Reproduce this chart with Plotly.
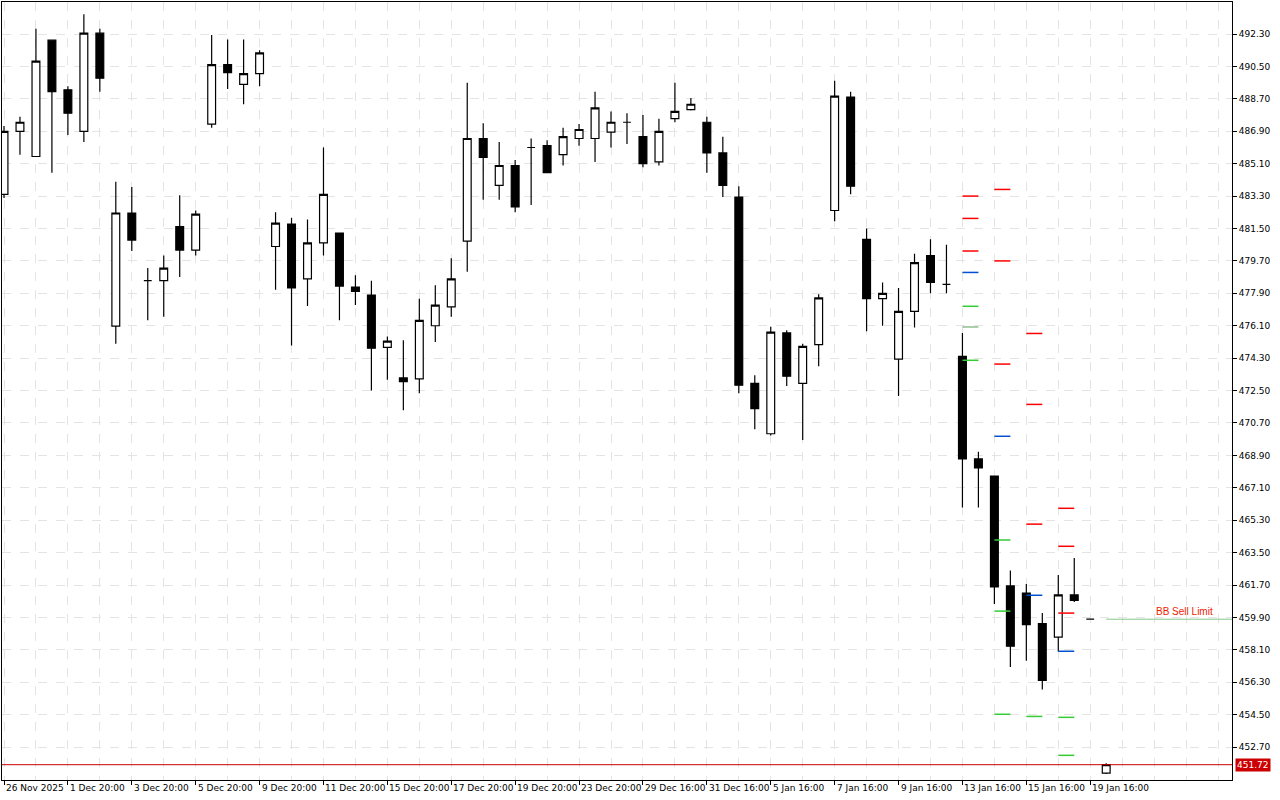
import plotly.graph_objects as go

opens  = [483.4,486.9,485.5,491.96,489.2,486.9,492.35,476.08,482.36,478.6,478.6,481.6,480.3,487.3,490.6,489.5,490.1,
          480.5,481.75,478.7,480.7,481.25,478.25,477.8,474.9,473.2,473.15,476.1,477.15,480.8,486.5,483.9,485.0,486.0,486.1,
          485.6,486.5,486.5,486.85,487.4,486.6,485.2,487.6,488.1,487.4,485.7,483.25,472.9,470.1,475.7,472.9,475.05,482.5,
          488.8,480.9,477.6,474.25,476.9,480.0,478.4,474.4,468.7,467.75,461.65,461.25,459.55,458.8,461.15,459.8,451.25]
highs  = [487.2,487.7,492.6,491.96,489.4,493.4,492.6,484.1,483.8,479.3,480.0,483.35,482.5,492.25,492.0,492.0,491.4,
          482.4,482.1,482.0,486.0,481.25,478.9,478.6,475.5,475.3,477.6,478.35,479.85,489.6,487.35,486.3,485.3,486.5,486.4,
          487.1,487.3,489.1,488.0,487.9,487.8,487.6,489.6,488.75,487.7,486.6,483.85,473.35,476.05,475.85,475.1,477.85,489.7,
          489.1,481.5,478.5,478.2,480.1,480.9,480.6,475.7,469.1,467.75,462.5,461.75,460.15,462.25,463.2,459.8,451.8]
lows   = [483.2,485.6,485.5,484.6,486.7,486.3,489.1,475.1,480.25,476.4,476.6,478.8,480.0,487.1,489.25,488.4,489.4,
          478.1,475.0,477.2,480.0,476.4,477.25,472.5,473.1,471.4,472.35,475.2,476.6,479.1,483.1,483.1,482.4,482.8,484.6,
          485.0,486.1,485.2,486.0,486.2,484.9,485.0,487.4,488.05,484.6,483.25,472.35,470.35,470.0,472.75,469.75,473.85,481.9,
          483.4,475.8,476.1,472.2,476.0,477.9,477.9,466.0,466.0,460.65,457.15,457.5,455.9,458.0,460.75,459.8,451.2]
closes = [486.9,487.4,490.8,489.1,487.9,492.35,489.85,482.36,480.86,478.6,479.3,480.3,482.3,490.6,490.15,490.1,491.25,
          481.8,478.2,480.7,483.4,478.3,478.0,474.85,475.25,473.0,476.4,477.25,478.7,486.5,485.45,485.0,482.7,486.0,484.6,
          486.6,487.0,488.2,487.4,487.4,485.1,486.9,488.0,488.4,485.7,483.9,472.8,471.5,475.75,473.3,474.95,477.65,488.85,
          483.85,477.6,477.9,476.9,479.6,478.5,478.4,468.7,468.2,461.6,458.3,459.5,456.4,461.15,460.85,459.8,451.72]

tick_idx = [0,4,8,12,16,20,24,28,32,36,40,44,48,52,56,60,64,68]
tick_txt = ["26 Nov 2025","1 Dec 20:00","3 Dec 20:00","5 Dec 20:00","9 Dec 20:00","11 Dec 20:00","15 Dec 20:00",
            "17 Dec 20:00","19 Dec 20:00","23 Dec 20:00","29 Dec 16:00","31 Dec 16:00","5 Jan 16:00","7 Jan 16:00",
            "9 Jan 16:00","13 Jan 16:00","15 Jan 16:00","19 Jan 16:00"]
price_ticks = [452.70,454.50,456.30,458.10,459.90,461.70,463.50,465.30,467.10,468.90,470.70,472.50,474.30,476.10,
               477.90,479.70,481.50,483.30,485.10,486.90,488.70,490.50,492.30]

# level markers: (start index, price)
red_levels = [(60,483.3),(60,482.06),(60,480.25),(62,483.67),(62,479.7),(62,473.97),(64,475.67),(64,471.73),
              (64,465.08),(66,465.96),(66,463.85),(66,460.14)]
blue_levels = [(60,479.06),(62,469.96),(64,461.13),(66,458.02)]
green_levels = [(60,477.18),(60,474.18),(62,464.2),(62,460.25),(62,454.52),(64,454.4),(66,454.35),(66,452.24)]
grey_levels = [(60,476.03)]
current_price = 451.72
order_price = 459.8
order_start = 69
order_label = "BB Sell Limit"

fig = go.Figure()
fig.add_trace(go.Candlestick(
    x=list(range(len(opens))), open=opens, high=highs, low=lows, close=closes,
    increasing=dict(line=dict(color="black", width=1.2), fillcolor="white"),
    decreasing=dict(line=dict(color="black", width=1.2), fillcolor="black"),
    whiskerwidth=0, showlegend=False, hoverinfo="skip"))

def seg(levels, color):
    xs, ys = [], []
    for s, p in levels:
        xs += [s, s + 1, None]
        ys += [p, p, None]
    fig.add_trace(go.Scatter(x=xs, y=ys, mode="lines", line=dict(color=color, width=1.5),
                             showlegend=False, hoverinfo="skip"))

seg(red_levels, "#ff0000")
seg(blue_levels, "#0050d0")
seg(green_levels, "#33cc33")
seg(grey_levels, "#8fbf8f")

XMIN, XMAX = -0.125, 76.875
fig.add_trace(go.Scatter(x=[order_start, XMAX], y=[order_price, order_price], mode="lines",
                         line=dict(color="#88c888", width=1), showlegend=False, hoverinfo="skip"))
fig.add_trace(go.Scatter(x=[XMIN, XMAX], y=[current_price, current_price], mode="lines",
                         line=dict(color="#cc0000", width=1), showlegend=False, hoverinfo="skip"))

ann = []
for i, t in zip(tick_idx, tick_txt):
    ann.append(dict(x=i, y=0, xref="x", yref="paper", text=t, showarrow=False, xanchor="left",
                    yanchor="top", yshift=-1, font=dict(size=9, color="black")))
ann.append(dict(x=1, y=current_price, xref="paper", yref="y", text="%.2f" % current_price, showarrow=False,
                xanchor="left", xshift=3, bgcolor="#cc0000", font=dict(size=9, color="white"), borderpad=1))
ann.append(dict(x=72.0, y=order_price, xref="x", yref="y", text=order_label, showarrow=False, xanchor="left",
                yanchor="bottom", font=dict(size=10, color="#ee2200", family="Liberation Sans")))

fig.update_layout(
    width=1280, height=800, margin=dict(l=2, r=48, t=2, b=20, autoexpand=False),
    paper_bgcolor="white", plot_bgcolor="white",
    font=dict(family="DejaVu Sans", size=9, color="black"),
    annotations=ann, showlegend=False,
    xaxis=dict(range=[XMIN, XMAX], rangeslider=dict(visible=False), tickvals=tick_idx, showticklabels=False,
               ticks="outside", ticklen=4, tickcolor="black", showgrid=True, gridcolor="#e4e4e4", griddash="dash",
               minor=dict(tick0=0, dtick=2, showgrid=True, gridcolor="#e4e4e4", griddash="dash"),
               showline=True, linecolor="black", mirror=True, zeroline=False, automargin=False),
    yaxis=dict(range=[450.87, 494.08], side="right", tickvals=price_ticks,
               ticktext=["%.2f" % v for v in price_ticks], ticks="outside", ticklen=4, tickcolor="black",
               showgrid=True, gridcolor="#e4e4e4", griddash="dash", showline=True, linecolor="black",
               mirror=True, zeroline=False, automargin=False),
)
fig.write_html("out.html", config={"displayModeBar": False},
               post_script="document.body.style.margin='0';document.body.style.overflow='hidden';")
